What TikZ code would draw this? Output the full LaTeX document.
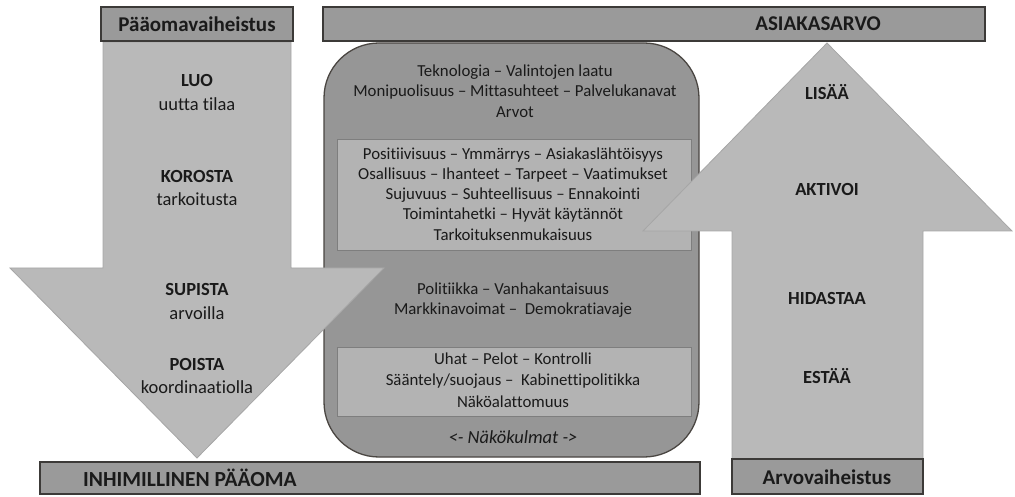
\documentclass[tikz,border=0pt]{standalone}
\usepackage{fontspec}
\setmainfont[Ligatures=NoCommon]{Carlito}
\definecolor{hdr}{HTML}{9A9A9A}
\definecolor{hdredge}{HTML}{3C3A38}
\definecolor{arr}{HTML}{B9B9B9}
\definecolor{arredge}{HTML}{A6A6A6}
\definecolor{rbox}{HTML}{969696}
\definecolor{rboxedge}{HTML}{4A4642}
\definecolor{ibox}{HTML}{B3B3B3}
\definecolor{iboxedge}{HTML}{7E7E7E}
\definecolor{txt}{HTML}{1A1A1A}
\begin{document}
\begin{tikzpicture}[x=1pt,y=-1pt,
  hdrbox/.style={fill=hdr,draw=hdredge,line width=1.3pt},
  arrowshape/.style={fill=arr,draw=arredge,line width=0.8pt},
  txtnode/.style={text=txt,font=\fontsize{16.8}{20}\selectfont,align=center,inner sep=0pt},
  armtext/.style={text=txt,font=\fontsize{18.5}{21}\selectfont,align=center,inner sep=0pt},
  bignode/.style={text=txt,font=\fontsize{18.5}{21}\selectfont\bfseries,align=center,inner sep=0pt},
  hdrtext/.style={text=txt,font=\fontsize{21}{24}\selectfont\bfseries,inner sep=0pt}]
\useasboundingbox (0,0) rectangle (1015,497);

% central rounded box
\draw[fill=rbox,draw=rboxedge,line width=1.3pt,rounded corners=55pt] (324,43) rectangle (699,457);
\draw[fill=ibox,draw=iboxedge,line width=1pt] (337,140) rectangle (691,251);
\draw[fill=ibox,draw=iboxedge,line width=1pt] (337,347) rectangle (691,416);

\node[txtnode] (t1) at (515,72) {Teknologia – Valintojen laatu};
\node[txtnode] (t2) at (515,92) {Monipuolisuus – Mittasuhteet – Palvelukanavat};
\node[txtnode] (t3) at (515,112) {Arvot};
\node[txtnode] (p1) at (513,155) {Positiivisuus – Ymmärrys – Asiakaslähtöisyys};
\node[txtnode] (p2) at (513,175) {Osallisuus – Ihanteet – Tarpeet – Vaatimukset};
\node[txtnode] (p3) at (513,195) {Sujuvuus – Suhteellisuus – Ennakointi};
\node[txtnode] (p4) at (513,215) {Toimintahetki – Hyvät käytännöt};
\node[txtnode] (p5) at (513,235) {Tarkoituksenmukaisuus};
\node[txtnode] (m1) at (513,289) {Politiikka – Vanhakantaisuus};
\node[txtnode] (m2) at (513,310) {Markkinavoimat –\ \ Demokratiavaje};
\node[txtnode] (u1) at (513,359) {Uhat – Pelot – Kontrolli};
\node[txtnode] (u2) at (513,381) {Sääntely/suojaus –\ \ Kabinettipolitikka};
\node[txtnode] (u3) at (513,402) {Näköalattomuus};
\node[txtnode,font=\fontsize{18.5}{21}\selectfont\itshape] (nk) at (513,437) {<- Näkökulmat ->};

% down arrow
\draw[arrowshape] (103,42) -- (291,42) -- (291,268) -- (384,268) -- (197,458) -- (10,268) -- (103,268) -- cycle;
% up arrow
\draw[arrowshape] (827,43) -- (1012,231) -- (923,231) -- (923,459) -- (732,459) -- (732,231) -- (643,231) -- cycle;

% left arrow texts
\node[bignode] (luo) at (197,81) {LUO};
\node[armtext] (luo2) at (197,104) {uutta tilaa};
\node[bignode] (kor) at (197,176) {KOROSTA};
\node[armtext] (kor2) at (197,199) {tarkoitusta};
\node[bignode] (sup) at (197,290) {SUPISTA};
\node[armtext] (sup2) at (197,313) {arvoilla};
\node[bignode] (poi) at (197,364) {POISTA};
\node[armtext] (poi2) at (197,387) {koordinaatiolla};

% right arrow texts
\node[bignode] (lis) at (827,92) {LISÄÄ};
\node[bignode] (akt) at (827,189) {AKTIVOI};
\node[bignode] (hid) at (827,298) {HIDASTAA};
\node[bignode] (est) at (827,376) {ESTÄÄ};

% header boxes
\draw[hdrbox] (101,7) rectangle (293,41);
\node[hdrtext] (pv) at (197,24) {Pääomavaiheistus};
\draw[hdrbox] (323,7) rectangle (985,41);
\node[hdrtext] (as) at (818,24) {ASIAKASARVO};
\draw[hdrbox] (40,462) rectangle (700,494);
\node[hdrtext,font=\fontsize{21.5}{24}\selectfont\bfseries,anchor=west] (ih) at (83,478) {INHIMILLINEN PÄÄOMA};
\draw[hdrbox] (732,459) rectangle (923,494);
\node[hdrtext] (av) at (827,477) {Arvovaiheistus};
\end{tikzpicture}
\end{document}
